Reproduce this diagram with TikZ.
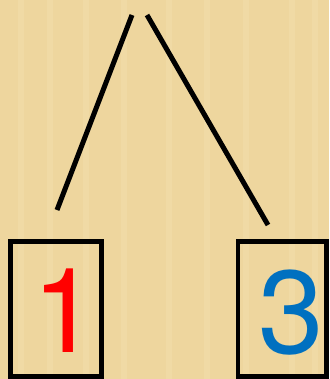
\documentclass[tikz,border=0pt]{standalone}
\usepackage{fontspec}
\newfontfamily\digitfont{TeX Gyre Heros}
\definecolor{papyrus}{RGB}{238,214,158}
\definecolor{papyruslight}{RGB}{246,228,180}
\definecolor{digitblue}{RGB}{0,112,192}
\tikzset{
  leafbox/.style={draw=black, line width=4.5pt, minimum width=#1, minimum height=135pt, inner sep=0pt},
  digit/.style={font=\digitfont\fontsize{118}{118}\selectfont, inner sep=0pt},
  branch/.style={line width=5pt}
}
\begin{document}
\begin{tikzpicture}[x=1pt, y=-1pt]
% background
\fill[papyrus] (0,0) rectangle (329,379);
\foreach \xx in {18,47,83,121,166,204,243,289,312}
  \fill[papyruslight, opacity=0.35] (\xx,0) rectangle ++(6,379);
\useasboundingbox (0,0) rectangle (329,379);
% branches
\coordinate (topL) at (132,15);
\coordinate (topR) at (147,15);
\coordinate (endL) at (57,210);
\coordinate (endR) at (268,225);
\draw[branch] (topL) -- (endL);
\draw[branch] (topR) -- (endR);
% leaves
\node[leafbox=91pt] (boxL) at (56,309) {};
\node[leafbox=88.5pt] (boxR) at (282,309) {};
\node[digit, text=red] (one) at (65.5,311) {1};
\node[digit, text=digitblue] (three) at (291,312.5) {3};
\end{tikzpicture}
\end{document}
